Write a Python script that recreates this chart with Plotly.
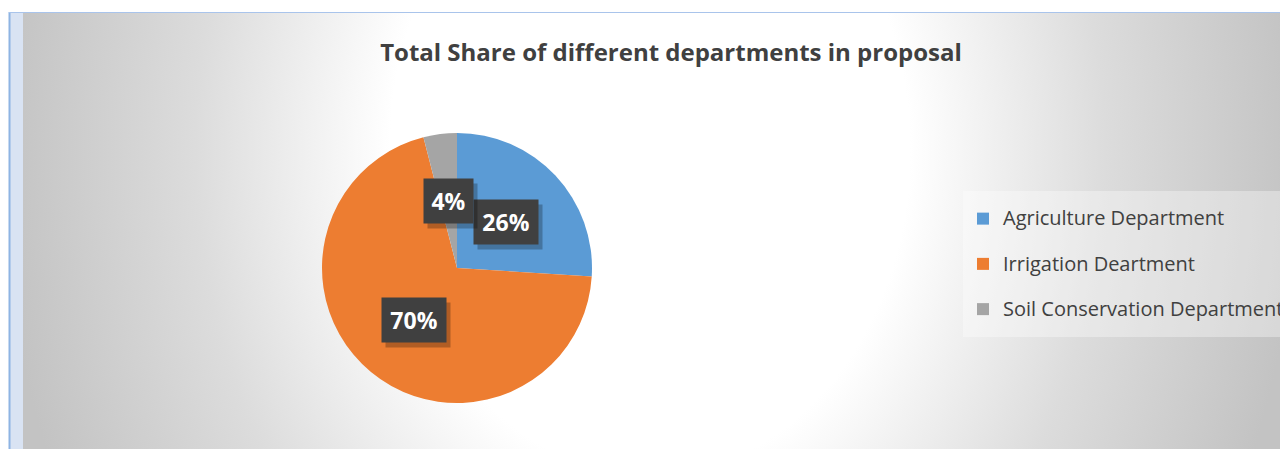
import base64
import math
import plotly.graph_objects as go

# ---------------- data ----------------
departments = ["Agriculture Department", "Irrigation Deartment", "Soil Conservation Department"]
shares = [26, 70, 4]
colors = ["#5B9BD5", "#ED7D31", "#A5A5A5"]
title_text = "Total Share of different departments in proposal"

# ---------------- layout constants (px, figure sits 8px in from page edge) ----------------
W, H = 1280, 441
PIE_CX, PIE_CY, PIE_R = 449, 260, 135

# background: white page, blue frame, light strip, radial grey gradient
bg_svg = f"""<svg xmlns='http://www.w3.org/2000/svg' width='{W}' height='{H}' viewBox='0 0 {W} {H}'>
<defs>
<radialGradient id='g' gradientUnits='userSpaceOnUse' cx='642' cy='142' r='650'
 gradientTransform='translate(642 142) scale(1 1.25) translate(-642 -142)'>
<stop offset='0' stop-color='#ffffff'/>
<stop offset='0.40' stop-color='#ffffff'/>
<stop offset='0.70' stop-color='#dcdcdc'/>
<stop offset='1' stop-color='#c3c3c3'/>
</radialGradient>
</defs>
<rect x='0' y='0' width='{W}' height='{H}' fill='#ffffff'/>
<rect x='2' y='4' width='{W}' height='{H}' fill='#d9e3f3'/>
<rect x='15' y='5' width='{W}' height='{H}' fill='url(#g)'/>
<line x1='1.5' y1='4' x2='1.5' y2='{H}' stroke='#8eb4e3' stroke-width='2'/>
<line x1='1' y1='4.5' x2='{W}' y2='4.5' stroke='#a9c4eb' stroke-width='1.2'/>
</svg>"""
bg_uri = "data:image/svg+xml;base64," + base64.b64encode(bg_svg.encode()).decode()

legend_labels = [f"<span style='font-size:20px;baseline-shift:6px'>{d}</span>" for d in departments]

fig = go.Figure()
fig.add_trace(go.Pie(
    labels=legend_labels,
    values=shares,
    sort=False,
    direction="clockwise",
    rotation=0,
    marker=dict(colors=colors, line=dict(width=0)),
    textinfo="none",
    hoverinfo="skip",
    domain=dict(
        x=[(PIE_CX - PIE_R) / W, (PIE_CX + PIE_R) / W],
        y=[1 - (PIE_CY + PIE_R) / H, 1 - (PIE_CY - PIE_R) / H],
    ),
))

# data labels at half radius of each slice midpoint
total = sum(shares)
annotations = []
cum = 0.0
for v in shares:
    mid = (cum + v / 2) / total * 2 * math.pi
    cum += v
    px = PIE_CX + 0.5 * PIE_R * math.sin(mid)
    py = PIE_CY - 0.5 * PIE_R * math.cos(mid)
    txt = f"{round(100 * v / total)}%"
    base = dict(x=px / W, y=1 - py / H, xref="paper", yref="paper",
                showarrow=False, xanchor="center", yanchor="middle",
                borderpad=6, width=15 * len(txt) + 7)
    annotations.append(dict(base, text=f"<b>{txt}</b>",
                            font=dict(family="Open Sans", size=23, color="rgba(0,0,0,0)"),
                            bgcolor="rgba(0,0,0,0.25)", xshift=4, yshift=-5))
    annotations.append(dict(base, text=f"<b>{txt}</b>",
                            font=dict(family="Open Sans", size=23, color="#ffffff"),
                            bgcolor="#404040"))

fig.update_layout(
    width=W, height=H,
    margin=dict(l=0, r=0, t=0, b=0, autoexpand=False),
    paper_bgcolor="#ffffff",
    plot_bgcolor="rgba(0,0,0,0)",
    title=dict(text=f"<b>{title_text}</b>", x=663 / W, y=1 - 45 / H,
               xanchor="center", yanchor="middle",
               font=dict(family="Open Sans", size=24, color="#404040")),
    showlegend=True,
    legend=dict(x=955 / W, y=1 - 256 / H, xanchor="left", yanchor="middle",
                bgcolor="rgba(255,255,255,0.35)", borderwidth=0,
                font=dict(family="Open Sans", size=32.5, color="#404040")),
    images=[dict(source=bg_uri, xref="paper", yref="paper", x=0, y=1,
                 sizex=1, sizey=1, xanchor="left", yanchor="top",
                 sizing="stretch", layer="below")],
    annotations=annotations,
)

fig.write_html("out.html")
